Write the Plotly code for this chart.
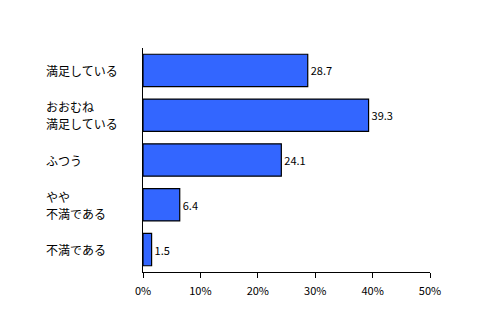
import plotly.graph_objects as go

categories = ["満足している", "おおむね\n満足している", "ふつう", "やや\n不満である", "不満である"]
values = [28.7, 39.3, 24.1, 6.4, 1.5]
tick_vals = [0, 10, 20, 30, 40, 50]
tick_text = ["0%", "10%", "20%", "30%", "40%", "50%"]

W, H = 486, 314
ml, mr, mt, mb = 143, 56, 48, 42
font = "Noto Sans CJK JP, sans-serif"

fig = go.Figure(go.Bar(
    x=values, y=categories, orientation="h",
    marker=dict(color="#3366FF", line=dict(color="black", width=1.2)),
    width=0.72,
    text=[f"{v:.1f}" for v in values], textposition="outside",
    textfont=dict(family=font, size=11, color="black"),
    cliponaxis=False,
))

plot_w = W - ml - mr
annotations = []
line_gap = 17
for c in categories:
    lines = c.split("\n")
    n = len(lines)
    for i, ln in enumerate(lines):
        shift = ((n - 1) / 2 - i) * line_gap
        annotations.append(dict(
            x=(44 - ml) / plot_w, xref="paper", y=c, yref="y",
            text=ln, showarrow=False, xanchor="left", align="left",
            yshift=shift,
            font=dict(family=font, size=12, color="black"),
        ))

fig.update_layout(
    width=W, height=H,
    margin=dict(l=ml, r=mr, t=mt, b=mb),
    paper_bgcolor="white", plot_bgcolor="white",
    showlegend=False,
    font=dict(family=font, size=11, color="black"),
    annotations=annotations,
    xaxis=dict(range=[0, 50], tickvals=tick_vals, ticktext=tick_text,
               ticks="outside", ticklen=5, tickcolor="black",
               ticklabelstandoff=4,
               showline=True, linecolor="black", linewidth=1,
               showgrid=False, zeroline=False, fixedrange=True,
               tickfont=dict(family=font, size=11)),
    yaxis=dict(categoryorder="array", categoryarray=categories[::-1],
               showticklabels=False, ticks="",
               showline=True, linecolor="black", linewidth=1,
               showgrid=False, zeroline=False, fixedrange=True),
)

fig.write_html("out.html")
